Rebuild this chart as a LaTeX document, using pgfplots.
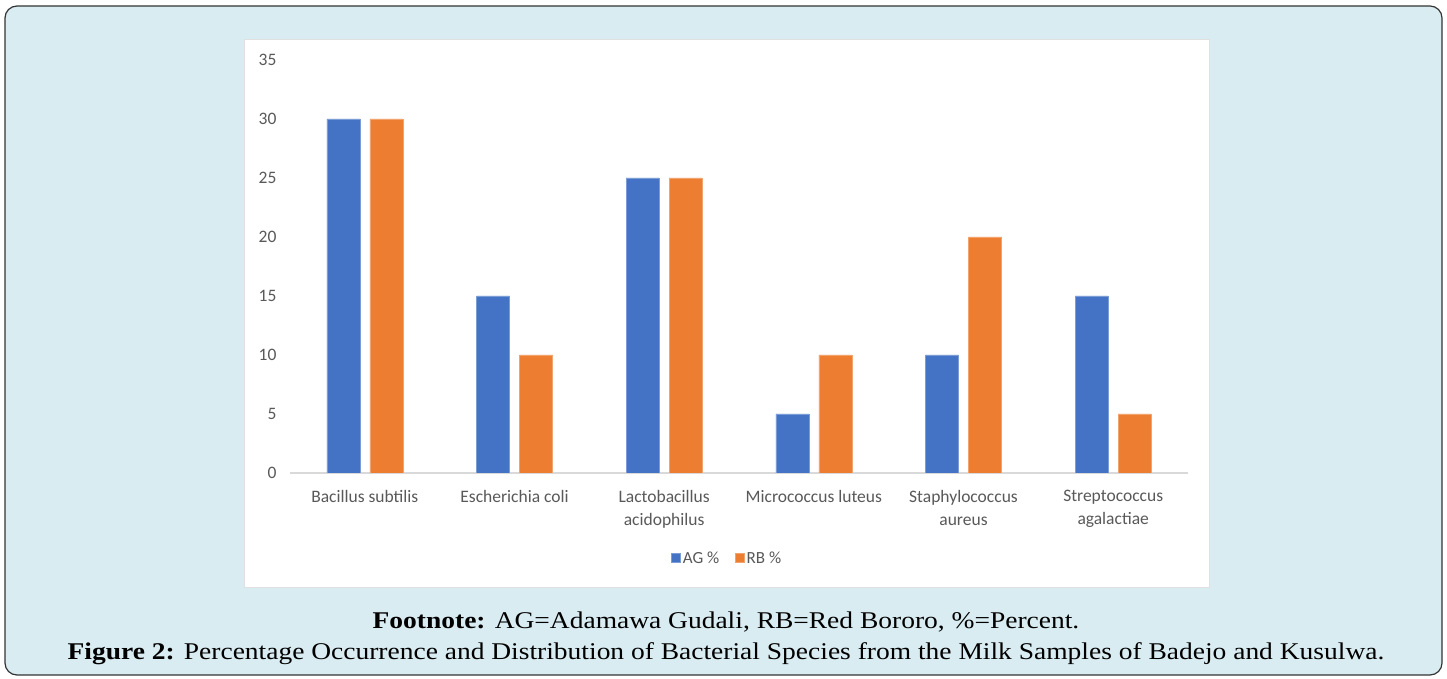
\documentclass[border=0pt]{standalone}
\usepackage{fontspec}
\setmainfont{Liberation Serif}
\newfontfamily\capfont{Liberation Serif}[FakeStretch=1.145]
\newfontfamily\chartfont{Carlito}
\usepackage{pgfplots}
\pgfplotsset{compat=1.18}

\definecolor{agblue}{HTML}{4472C4}
\definecolor{rborange}{HTML}{ED7D31}
\definecolor{boxbg}{HTML}{D9ECF1}
\definecolor{ticktxt}{HTML}{595959}
\definecolor{axisgray}{HTML}{D9D9D9}

\begin{document}
\begin{tikzpicture}
% page frame and white chart panel
\path (0pt,0pt) rectangle (1447pt,679pt);
\draw[fill=boxbg, draw=black!80, line width=1.2pt, rounded corners=12pt] (5pt,4pt) rectangle (1442pt,673pt);
\draw[fill=white, draw=black!12, line width=1pt] (244pt,91pt) rectangle (1209pt,639pt);

\begin{axis}[
    at={(290pt,206pt)}, anchor=south west,
    scale only axis,
    width=898pt, height=413pt,
    ybar, bar width=33pt,
    xmin=-0.5, xmax=5.5,
    ymin=0, ymax=35,
    xtick=data,
    xticklabels={Bacillus subtilis, Escherichia coli, {Lactobacillus\\acidophilus},
        Micrococcus luteus, {Staphylococcus\\aureus}, {Streptococcus\\agalactiae}},
    ytick={0,5,...,35},
    major tick length=0pt,
    axis x line*=bottom, axis y line*=left,
    x axis line style={axisgray, line width=1.3pt, -},
    y axis line style={draw=none},
    ticklabel style={font=\chartfont\fontsize{17.5}{23}\selectfont, text=ticktxt},
    xticklabel style={align=center, yshift=-14pt},
    yticklabel style={xshift=-10pt},
    /pgf/number format/assume math mode=true,
    legend columns=2,
    legend style={at={(0.487,-0.206)}, anchor=center, draw=none, fill=none,
        font=\chartfont\fontsize{17}{19}\selectfont, text=ticktxt,
        /tikz/every even column/.append style={column sep=14pt}},
    legend image code/.code={\fill[#1] (0pt,-4.5pt) rectangle (9pt,4.5pt);},
]
\addplot[fill=agblue, draw=agblue!70!white, bar shift=-21.5pt] coordinates {(0,30) (1,15) (2,25) (3,5) (4,10) (5,15)};
\addplot[fill=rborange, draw=rborange!70!white, bar shift=21.5pt] coordinates {(0,30) (1,10) (2,25) (3,10) (4,20) (5,5)};
\legend{AG \%, RB \%}
\end{axis}

\node[font=\capfont\fontsize{24}{28}\selectfont] at (726pt,57pt) {\textbf{Footnote:} AG=Adamawa Gudali, RB=Red Bororo, \%=Percent.};
\node[font=\capfont\fontsize{24}{28}\selectfont] at (726pt,25pt) {\textbf{Figure 2:} Percentage Occurrence and Distribution of Bacterial Species from the Milk Samples of Badejo and Kusulwa.};
\end{tikzpicture}
\end{document}
